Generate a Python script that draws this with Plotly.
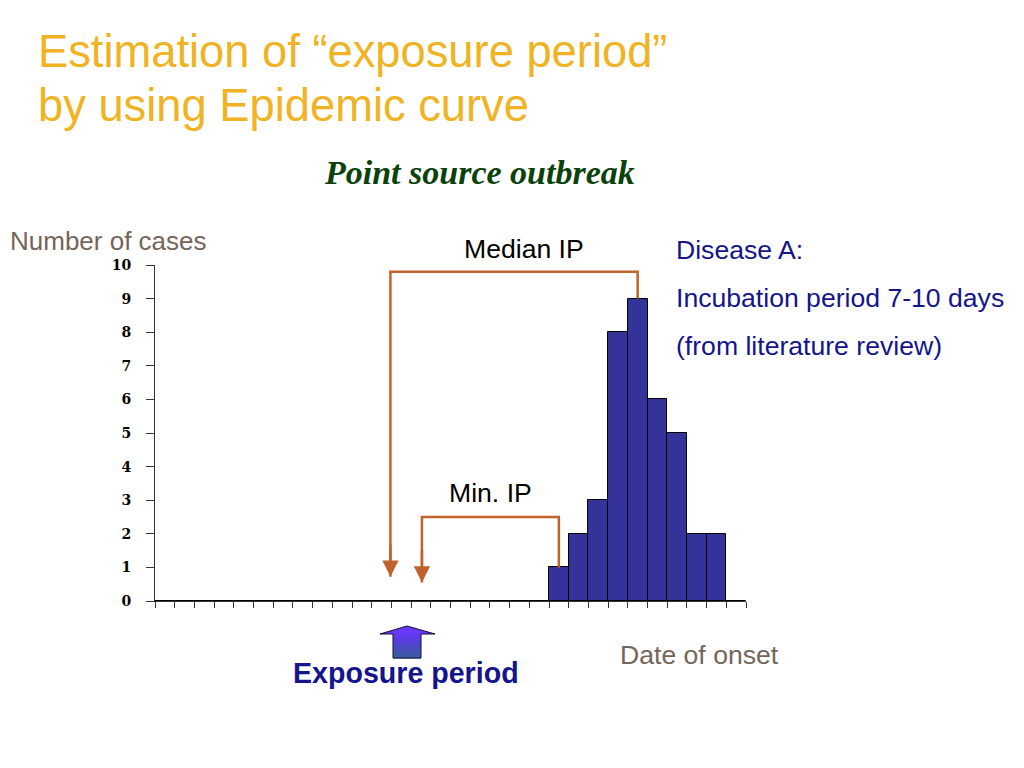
import plotly.graph_objects as go

# ---- data ----
day_slots = [i + 0.5 for i in range(30)]
cases = [0, 0, 0, 0, 0, 0, 0, 0, 0, 0,
         0, 0, 0, 0, 0, 0, 0, 0, 0, 0,
         1, 2, 3, 8, 9, 6, 5, 2, 2, 0]
y_ticks = [0, 1, 2, 3, 4, 5, 6, 7, 8, 9, 10]
x_ticks = list(range(31))

median_ip_x = [11.95, 11.95, 24.5, 24.5]
median_ip_y = [0.72, 9.8, 9.8, 9.0]
min_ip_x = [13.55, 13.55, 20.5, 20.5]
min_ip_y = [0.55, 2.5, 2.5, 1.0]

OFF = 8  # page body margin
W, H = 1024 - 2 * OFF, 768 - 2 * OFF
L, R, T, B = 155, 746, 265, 601  # plot area in page pixels


def px(x):
    return (x - L) / (R - L)


def py(y):
    return (B - y) / (B - T)


BROWN = "#c0622c"

fig = go.Figure()
fig.add_trace(go.Bar(
    x=day_slots, y=cases, width=1,
    marker=dict(color="#333399", line=dict(color="#000000", width=1)),
    showlegend=False, hoverinfo="skip",
))
for xs, ys in ((median_ip_x, median_ip_y), (min_ip_x, min_ip_y)):
    fig.add_trace(go.Scatter(
        x=xs, y=ys, mode="lines",
        line=dict(color=BROWN, width=2.5),
        showlegend=False, hoverinfo="skip", cliponaxis=False,
    ))
    fig.add_annotation(
        x=xs[0], y=ys[0], ax=xs[0], ay=ys[0] + 1.0,
        xref="x", yref="y", axref="x", ayref="y",
        text="", showarrow=True, arrowhead=2, arrowsize=1.3,
        arrowwidth=2.5, arrowcolor=BROWN,
    )


def txt(text, x, y, size, color, family="Liberation Sans, Arial", xanchor="left",
        bold=False, italic=False):
    if bold:
        text = "<b>" + text + "</b>"
    if italic:
        text = "<i>" + text + "</i>"
    fig.add_annotation(
        x=px(x), y=py(y), xref="paper", yref="paper", text=text,
        showarrow=False, xanchor=xanchor, yanchor="middle",
        font=dict(size=size, color=color, family=family),
    )


GOLD = "#f0b323"
txt("Estimation of “exposure period”", 36, 51, 45.3, GOLD)
txt("by using Epidemic curve", 36, 106, 45.3, GOLD)
txt("Point source outbreak", 480, 172, 34, "#0b420b",
    family="Liberation Serif, Times New Roman", xanchor="center", bold=True, italic=True)
txt("Number of cases", 8, 241, 26, "#756559")
txt("Median IP", 524, 249, 26.6, "#000000", xanchor="center")
txt("Min. IP", 490, 493, 26.6, "#000000", xanchor="center")
NAVY = "#14148c"
txt("Disease A:", 674, 250, 26.6, NAVY)
txt("Incubation period 7-10 days", 674, 298, 26.6, NAVY)
txt("(from literature review)", 674, 346, 26.6, NAVY)
txt("Date of onset", 618, 655, 26.6, "#756559")
txt("Exposure period", 406, 673, 28.6, NAVY, xanchor="center", bold=True)

# exposure arrow (decorative), gradient via bands
stem_l, stem_r, stem_t, stem_b = 393, 421, 634, 658
head = [(407, 626), (380, 634), (435, 634)]
fig.add_shape(type="path", xref="paper", yref="paper",
              path="M {} {} L {} {} L {} {} Z".format(
                  px(head[0][0]), py(head[0][1]), px(head[1][0]), py(head[1][1]),
                  px(head[2][0]), py(head[2][1])),
              fillcolor="#6a38f8", line=dict(width=0))
bands = ["#6238ee", "#5a3ee0", "#5244d0", "#4a4cc0", "#4252b2", "#3a58a6"]
bh = (stem_b - stem_t) / len(bands)
for i, c in enumerate(bands):
    fig.add_shape(type="rect", xref="paper", yref="paper",
                  x0=px(stem_l), x1=px(stem_r),
                  y0=py(stem_t + i * bh), y1=py(stem_t + (i + 1) * bh + 0.5),
                  fillcolor=c, line=dict(width=0))
outline = [head[0], head[2], (stem_r, stem_t), (stem_r, stem_b), (stem_l, stem_b),
           (stem_l, stem_t), head[1]]
fig.add_shape(type="path", xref="paper", yref="paper",
              path="M " + " L ".join("{} {}".format(px(a), py(b)) for a, b in outline) + " Z",
              line=dict(color="#101030", width=1))

fig.update_layout(
    width=W, height=H,
    margin=dict(l=L - OFF, r=W - (R - OFF), t=T - OFF, b=H - (B - OFF), pad=0),
    paper_bgcolor="white", plot_bgcolor="white",
    bargap=0,
    xaxis=dict(range=[0, 30], tickmode="array", tickvals=x_ticks, showticklabels=False,
               ticks="outside", ticklen=6, tickcolor="#333333", tickwidth=1,
               showline=True, linecolor="#333333", linewidth=1, showgrid=False,
               zeroline=False, fixedrange=True),
    yaxis=dict(range=[0, 10], tickmode="array", tickvals=y_ticks,
               ticks="outside", ticklen=8, tickcolor="#333333", tickwidth=1,
               showline=True, linecolor="#333333", linewidth=1, showgrid=False,
               zeroline=False, ticklabelstandoff=12,
               tickfont=dict(family="DejaVu Serif", size=14, color="#000000",
                             weight="bold"),
               fixedrange=True),
)

fig.write_html("out.html")
